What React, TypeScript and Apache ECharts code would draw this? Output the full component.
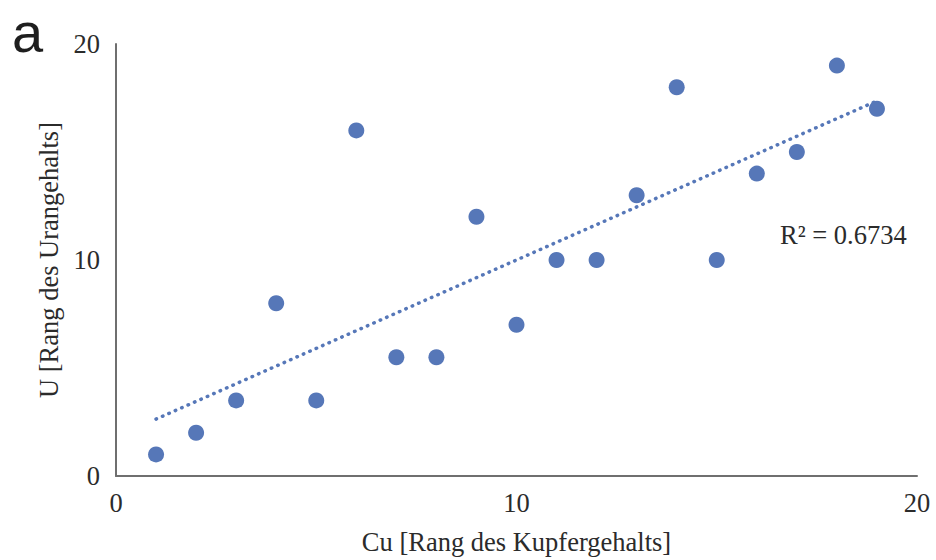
import React, { useEffect, useRef } from "react";
import * as echarts from "echarts";

const cuRank: number[] = [1, 2, 3, 4, 5, 6, 7, 8, 9, 10, 11, 12, 13, 14, 15, 16, 17, 18, 19];
const uRank: number[] = [1, 2, 3.5, 8, 3.5, 16, 5.5, 5.5, 12, 7, 10, 10, 13, 18, 10, 14, 15, 19, 17];
const axisTicks: number[] = [0, 10, 20];
const xTitle = "Cu [Rang des Kupfergehalts]";
const yTitle = "U [Rang des Urangehalts]";
const panelLabel = "a";

function regression(xs: number[], ys: number[]) {
  const n = xs.length;
  const mx = xs.reduce((a, b) => a + b, 0) / n;
  const my = ys.reduce((a, b) => a + b, 0) / n;
  let sxy = 0, sxx = 0, syy = 0;
  for (let i = 0; i < n; i++) {
    sxy += (xs[i] - mx) * (ys[i] - my);
    sxx += (xs[i] - mx) ** 2;
    syy += (ys[i] - my) ** 2;
  }
  const slope = sxy / sxx;
  const intercept = my - slope * mx;
  const r2 = (sxy * sxy) / (sxx * syy);
  return { slope, intercept, r2 };
}

export default function App() {
  const ref = useRef<HTMLDivElement>(null);
  useEffect(() => {
    if (!ref.current) return;
    const chart = echarts.init(ref.current, undefined, { renderer: "svg" });
    const { slope, intercept, r2 } = regression(cuRank, uRank);
    const xMin = Math.min(...cuRank);
    const xMax = Math.max(...cuRank);
    const trend = [
      [xMin, intercept + slope * xMin],
      [xMax, intercept + slope * xMax],
    ];
    const blue = "#5677b8";
    const serif = "'Liberation Serif', 'Times New Roman', serif";
    const textColor = "#2b2b2b";
    const fs = 26.5;
    chart.setOption({
      animation: false,
      backgroundColor: "#ffffff",
      grid: { left: 116, right: 19, top: 44, bottom: 84, containLabel: false },
      xAxis: {
        type: "value",
        min: axisTicks[0],
        max: axisTicks[axisTicks.length - 1],
        interval: axisTicks[1] - axisTicks[0],
        name: xTitle,
        nameLocation: "middle",
        nameGap: 52,
        nameTextStyle: { fontFamily: serif, fontSize: fs, color: textColor },
        axisLine: { show: true, lineStyle: { color: "#6f6f6f", width: 2 } },
        axisTick: { show: false },
        splitLine: { show: false },
        axisLabel: { fontFamily: serif, fontSize: fs, color: textColor, margin: 13 },
      },
      yAxis: {
        type: "value",
        min: axisTicks[0],
        max: axisTicks[axisTicks.length - 1],
        interval: axisTicks[1] - axisTicks[0],
        name: yTitle,
        nameLocation: "middle",
        nameGap: 53,
        nameTextStyle: { fontFamily: serif, fontSize: fs, color: textColor },
        axisLine: { show: true, lineStyle: { color: "#6f6f6f", width: 2 } },
        axisTick: { show: false },
        splitLine: { show: false },
        axisLabel: { fontFamily: serif, fontSize: fs, color: textColor, margin: 16 },
      },
      series: [
        {
          type: "line",
          data: trend,
          symbol: "none",
          lineStyle: { color: blue, width: 3.5, type: [0.5, 6.5], cap: "round" },
          silent: true,
          z: 1,
        },
        {
          type: "scatter",
          data: cuRank.map((x, i) => [x, uRank[i]]),
          symbol: "circle",
          symbolSize: 16,
          itemStyle: { color: blue, opacity: 1 },
          z: 2,
        },
      ],
      graphic: [
        {
          type: "text",
          left: 12,
          top: 4,
          style: {
            text: panelLabel,
            font: "56px 'Liberation Sans', Arial, sans-serif",
            fill: "#1e1e1e",
          },
        },
        {
          type: "text",
          left: 780,
          top: 221,
          style: {
            text: "R² = " + r2.toFixed(4),
            font: "26.5px 'Liberation Serif', 'Times New Roman', serif",
            fill: textColor,
          },
        },
      ],
    });
    return () => chart.dispose();
  }, []);
  return (
    <div
      ref={ref}
      style={{ position: "fixed", left: 0, top: 0, width: 936, height: 560, background: "#fff" }}
    />
  );
}
